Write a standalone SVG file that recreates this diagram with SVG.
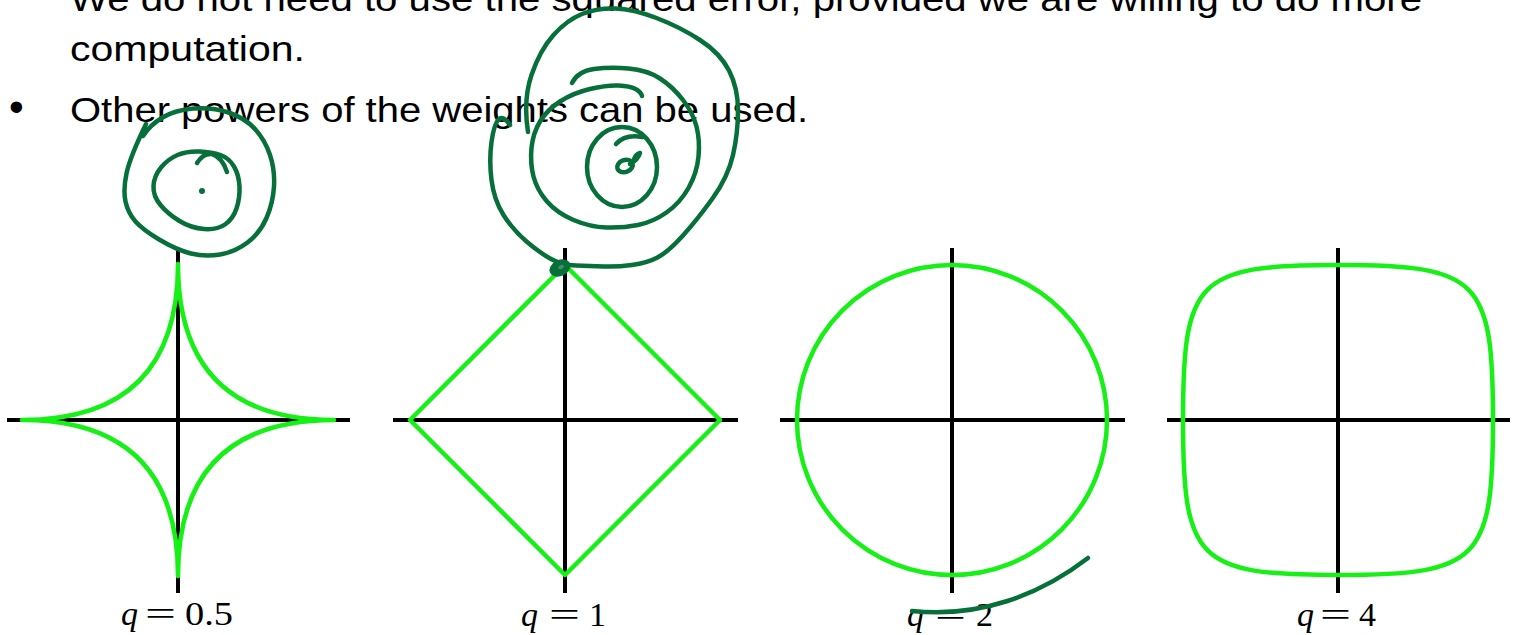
<svg xmlns="http://www.w3.org/2000/svg" width="1517" height="635" viewBox="0 0 1517 635">
<style>
.bg{fill:#fff}
.body{font-family:"Liberation Sans",Arial,sans-serif;font-size:35px;fill:#000}
.math{font-family:"Liberation Serif","Times New Roman",serif;font-size:34px;fill:#000}
.it{font-style:italic}
.axis{stroke:#000;stroke-width:4;fill:none}
.curve{stroke:#17f017;stroke-width:4.5;fill:none;stroke-linejoin:round}
.ink{stroke:#07703a;stroke-width:4.5;fill:none;stroke-linecap:round;stroke-linejoin:round}
</style>
<rect class="bg" x="0" y="0" width="1517" height="635"/>
<g id="slide-text">
<text class="body" x="70" y="11" textLength="1352" lengthAdjust="spacingAndGlyphs">We do not need to use the squared error, provided we are willing to do more</text>
<text class="body" x="70" y="61" textLength="235" lengthAdjust="spacingAndGlyphs">computation.</text>
<text class="body" x="9" y="121" style="font-size:42px">•</text>
<text class="body" x="70" y="122" textLength="738" lengthAdjust="spacingAndGlyphs">Other powers of the weights can be used.</text>
</g>
<g id="plot-q05">
<line class="axis" x1="7" y1="420" x2="350" y2="420"/>
<line class="axis" x1="178" y1="248" x2="178" y2="593"/>
<path class="curve" d="M22,420 Q178,420 178,264 Q178,420 334,420 Q178,420 178,576 Q178,420 22,420 Z"/>
<text class="math it" x="121" y="625">q</text>
<text class="math" x="145" y="625" textLength="31" lengthAdjust="spacingAndGlyphs">=</text>
<text class="math" x="185" y="625" textLength="48" lengthAdjust="spacingAndGlyphs">0.5</text>
</g>
<g id="plot-q1">
<line class="axis" x1="393" y1="420" x2="738" y2="420"/>
<line class="axis" x1="565" y1="248" x2="565" y2="593"/>
<path class="curve" d="M565,265 L720,420 L565,575 L410,420 Z"/>
<text class="math it" x="521" y="626">q</text>
<text class="math" x="549" y="626" textLength="31" lengthAdjust="spacingAndGlyphs">=</text>
<text class="math" x="589" y="626">1</text>
</g>
<g id="plot-q2">
<line class="axis" x1="780" y1="420" x2="1125" y2="420"/>
<line class="axis" x1="952" y1="248" x2="952" y2="593"/>
<circle class="curve" cx="952" cy="420" r="155"/>
<text class="math it" x="907" y="626">q</text>
<text class="math" x="935" y="626" textLength="31" lengthAdjust="spacingAndGlyphs">=</text>
<text class="math" x="976" y="626">2</text>
</g>
<g id="plot-q4">
<line class="axis" x1="1167" y1="420" x2="1510" y2="420"/>
<line class="axis" x1="1338" y1="248" x2="1338" y2="593"/>
<path class="curve" d="M1493,420 C1493,279 1479,265 1338,265 C1197,265 1183,279 1183,420 C1183,561 1197,575 1338,575 C1479,575 1493,561 1493,420 Z"/>
<text class="math it" x="1297" y="626">q</text>
<text class="math" x="1320" y="626" textLength="31" lengthAdjust="spacingAndGlyphs">=</text>
<text class="math" x="1359" y="626">4</text>
</g>
<g id="ink">
<path class="ink" d="M146,124 Q130,157 126.5,173.5 Q123,190 125.5,201.5 Q128,213 135.5,221.5 Q143,230 160,240 Q177,250 191,253.5 Q205,257 220,254.5 Q235,252 247.5,242.5 Q260,233 266.5,218 Q273,203 274,186.5 Q275,170 270,155 Q265,140 255,129 Q245,118 228.5,112.5 Q212,107 193.5,108.5 Q175,110 162.5,117.5 Q150,125 143,136"/>
<path class="ink" d="M177.5,155 Q187,151 199.5,151.5 Q212,152 220.5,155 Q229,158 234,166.5 Q239,175 239.5,186.5 Q240,198 236.5,208.5 Q233,219 225,224.5 Q217,230 204,229 Q191,228 179.5,221 Q168,214 160.5,205 Q153,196 153.5,186 Q154,176 161,167.5 Q168,159 177.5,155 Z"/>
<path class="ink" d="M197,163 Q203,153 212,154 Q222,157 227,172"/>
<circle cx="202" cy="191" r="3" fill="#07703a"/>
<path class="ink" d="M510,125 Q503,115 498.5,119.5 Q494,124 491.5,142 Q489,160 491.5,180 Q494,200 503.5,215 Q513,230 526.5,241.5 Q540,253 551,259 Q562,265 576,265.5 Q590,266 603.5,266.5 Q617,267 632,265 Q647,263 657.5,257.5 Q668,252 682.5,236 Q697,220 712.5,198.5 Q728,177 733,155 Q738,133 738,110.5 Q738,88 729,70.5 Q720,53 700,40 Q680,27 656.5,18 Q633,9 615,8.5 Q597,8 582,14 Q567,20 553.5,35 Q540,50 531.5,75 Q523,100 528,132"/>
<path class="ink" d="M572,83 Q578,71 594,69 Q610,67 628.5,68.5 Q647,70 660,78.5 Q673,87 683,100 Q693,113 696.5,126.5 Q700,140 698.5,156.5 Q697,173 688.5,188 Q680,203 666.5,212.5 Q653,222 638,225 Q623,228 606.5,227.5 Q590,227 573.5,220 Q557,213 547,201.5 Q537,190 533.5,176.5 Q530,163 531.5,148 Q533,133 540,121.5 Q547,110 560,101.5 Q573,93 590,89 Q607,85 618.5,85.5 Q630,86 635.5,89 Q641,92 642,96"/>
<ellipse class="ink" cx="622" cy="167" rx="35" ry="40"/>
<path class="ink" d="M616,144 Q625,134 642,137"/>
<ellipse class="ink" cx="625" cy="166" rx="8" ry="6" transform="rotate(-20 625 166)"/>
<path class="ink" d="M630,164 Q638,160 640,153 Q636,154 634,159"/>
<ellipse cx="560" cy="268" rx="11" ry="8" transform="rotate(-25 560 268)" fill="#07703a"/>
<ellipse cx="561" cy="267" rx="3" ry="2" transform="rotate(-25 561 267)" fill="#3f8f62"/>
<path class="ink" d="M1088,558 C1040,595 980,618 912,611"/>
</g>
</svg>
